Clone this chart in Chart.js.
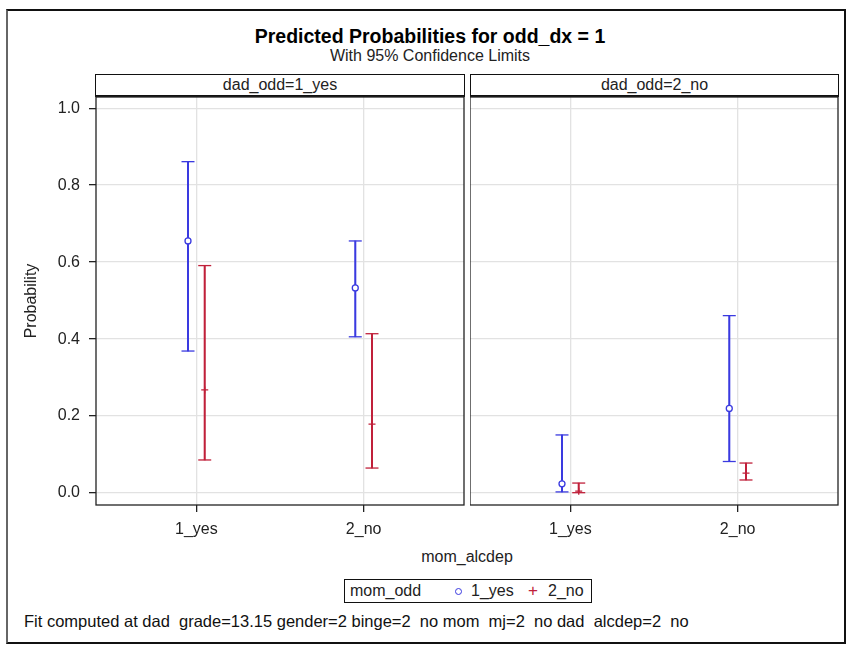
<!DOCTYPE html>
<html>
<head>
<meta charset="utf-8">
<script src="https://cdn.jsdelivr.net/npm/chart.js@4"></script>
<style>
  body { margin: 0; background: #fff; font-family: "Liberation Sans", Arial, sans-serif; }
  #wrap { position: relative; width: 851px; height: 652px; }
  #frame { position: absolute; left: 6px; top: 9px; width: 836px; height: 631px; border: 2px solid #111; border-left-color: #666; }
  .txt { position: absolute; white-space: pre; color: #000; }
  .strip { position: absolute; top: 74px; height: 20px; border: 1px solid #111; border-bottom: 2px solid #111; text-align: center; font-size: 16px; line-height: 20px; color: #222; }
  canvas { position: absolute; }
</style>
</head>
<body>
<div id="wrap">
  <div id="frame"></div>
  <div class="txt" style="left:0;width:860px;top:25px;text-align:center;font-size:19.5px;font-weight:bold;">Predicted Probabilities for odd_dx = 1</div>
  <div class="txt" style="left:0;width:860px;top:47px;text-align:center;font-size:16px;color:#222;">With 95% Confidence Limits</div>
  <div class="strip" id="strip1" style="left:95px;width:368px;"></div>
  <div class="strip" id="strip2" style="left:470px;width:367px;"></div>
  <canvas id="c1" width="466" height="445" style="left:0;top:96px;"></canvas>
  <canvas id="c2" width="369" height="445" style="left:470px;top:96px;"></canvas>
  <div class="txt" style="left:96px;width:742px;top:548px;text-align:center;font-size:16px;color:#222;">mom_alcdep</div>
  <div id="legend" style="position:absolute;left:344px;top:579px;width:246px;height:22px;border:1px solid #111;font-size:16px;color:#222;">
    <span class="txt" style="left:5px;top:2px;color:#222;">mom_odd</span>
    <span style="position:absolute;left:110px;top:8px;width:5px;height:5px;border:1.4px solid #3a3ae0;border-radius:50%;"></span>
    <span class="txt" id="lg1" style="left:126px;top:2px;color:#222;"></span>
    <span class="txt" style="left:183px;top:1px;color:#c0203a;font-size:17px;">+</span>
    <span class="txt" id="lg2" style="left:203px;top:2px;color:#222;"></span>
  </div>
  <div class="txt" style="left:24px;top:612px;font-size:16.5px;color:#111;">Fit computed at dad  grade=13.15 gender=2 binge=2  no mom  mj=2  no dad  alcdep=2  no</div>
</div>
<script>
const categories = ['1_yes', '2_no'];
const panelLabels = ['dad_odd=1_yes', 'dad_odd=2_no'];
const seriesNames = ['1_yes', '2_no'];
const yTicks = [0, 0.2, 0.4, 0.6, 0.8, 1.0];

// panel dad_odd=1_yes
const yesEst1 = [0.655, 0.533];
const yesLo1 = [0.369, 0.406];
const yesHi1 = [0.861, 0.655];
const noEst1 = [0.268, 0.179];
const noLo1 = [0.086, 0.065];
const noHi1 = [0.591, 0.414];

// panel dad_odd=2_no
const yesEst2 = [0.024, 0.220];
const yesLo2 = [0.003, 0.082];
const yesHi2 = [0.151, 0.461];
const noEst2 = [0.005, 0.052];
const noLo2 = [0.001, 0.034];
const noHi2 = [0.026, 0.078];

const blue = '#3a3ae0';
const red = '#c0203a';
const gridColor = '#e2e2e2';
const font = { family: '"Liberation Sans", Arial, sans-serif', size: 16 };

document.getElementById('strip1').textContent = panelLabels[0];
document.getElementById('strip2').textContent = panelLabels[1];
document.getElementById('lg1').textContent = seriesNames[0];
document.getElementById('lg2').textContent = seriesNames[1];

// panel border
const framePlugin = {
    id: 'frame',
    afterDraw(chart) {
        const { ctx, chartArea: a } = chart;
        ctx.save();
        ctx.strokeStyle = '#222';
        ctx.lineWidth = 1.3;
        ctx.strokeRect(a.left, a.top, a.right - a.left, a.bottom - a.top);
        ctx.restore();
    }
};

function seriesSets(est, lo, hi, color, shift, marker) {
    const xs = categories.map((c, i) => i + shift);
    return [
        {
            type: 'scatter',
            data: xs.map((x, i) => ({ x: x, y: est[i] })),
            pointStyle: marker,
            radius: marker === 'circle' ? 3 : 3.5,
            borderColor: color,
            backgroundColor: marker === 'circle' ? '#fff' : color,
            borderWidth: 1.3
        },
        {
            type: 'scatter',
            data: xs.map((x, i) => ({ x: x, y: lo[i] })).concat(xs.map((x, i) => ({ x: x, y: hi[i] }))),
            pointStyle: 'line',
            radius: 6.5,
            borderColor: color,
            borderWidth: 1.3
        },
        {
            type: 'bar',
            data: xs.map((x, i) => ({ x: x, y: [lo[i], hi[i]] })),
            backgroundColor: color,
            barThickness: 1.4,
            grouped: false
        }
    ];
}

function makePanel(id, yes, no, first) {
    const canvas = document.getElementById(id);
    const H = canvas.height;
    return new Chart(canvas, {
        type: 'scatter',
        data: {
            datasets: seriesSets(yes[0], yes[1], yes[2], blue, -0.05, 'circle')
                .concat(seriesSets(no[0], no[1], no[2], red, 0.05, 'cross'))
        },
        options: {
            responsive: false,
            animation: false,
            layout: { autoPadding: false, padding: { left: 0, right: first ? 2 : 1, top: 1, bottom: 0 } },
            plugins: {
                legend: { display: false },
                tooltip: { enabled: false }
            },
            scales: {
                x: {
                    type: 'linear',
                    min: -0.6,
                    max: 1.6,
                    offset: false,
                    afterBuildTicks: s => { s.ticks = categories.map((c, i) => ({ value: i })); },
                    ticks: {
                        callback: v => categories[v],
                        autoSkip: false,
                        maxRotation: 0,
                        padding: 8,
                        font: font,
                        color: '#222'
                    },
                    grid: { offset: false, color: gridColor, tickColor: '#222', tickLength: 7, lineWidth: 1.3 },
                    border: { display: false },
                    afterFit: s => {
                        s.height = H - 409;
                        s.paddingLeft = 0;
                        s.paddingRight = 0;
                    }
                },
                y: {
                    type: 'linear',
                    min: -0.031,
                    max: 1.029,
                    afterBuildTicks: s => { s.ticks = yTicks.map(v => ({ value: v })); },
                    ticks: {
                        display: first,
                        callback: v => v.toFixed(1),
                        padding: first ? 9 : 0,
                        font: font,
                        color: '#222'
                    },
                    grid: { color: gridColor, tickColor: '#222', tickLength: 7, drawTicks: first, lineWidth: 1.3 },
                    border: { display: false },
                    title: {
                        display: first,
                        text: 'Probability',
                        font: font,
                        color: '#222',
                        padding: { top: 22, bottom: 0 }
                    },
                    afterFit: s => {
                        s.width = first ? 96 : 0;
                        s.paddingTop = 0;
                        s.paddingBottom = 0;
                    }
                }
            }
        },
        plugins: [framePlugin]
    });
}

makePanel('c1', [yesEst1, yesLo1, yesHi1], [noEst1, noLo1, noHi1], true);
makePanel('c2', [yesEst2, yesLo2, yesHi2], [noEst2, noLo2, noHi2], false);
</script>
</body>
</html>
